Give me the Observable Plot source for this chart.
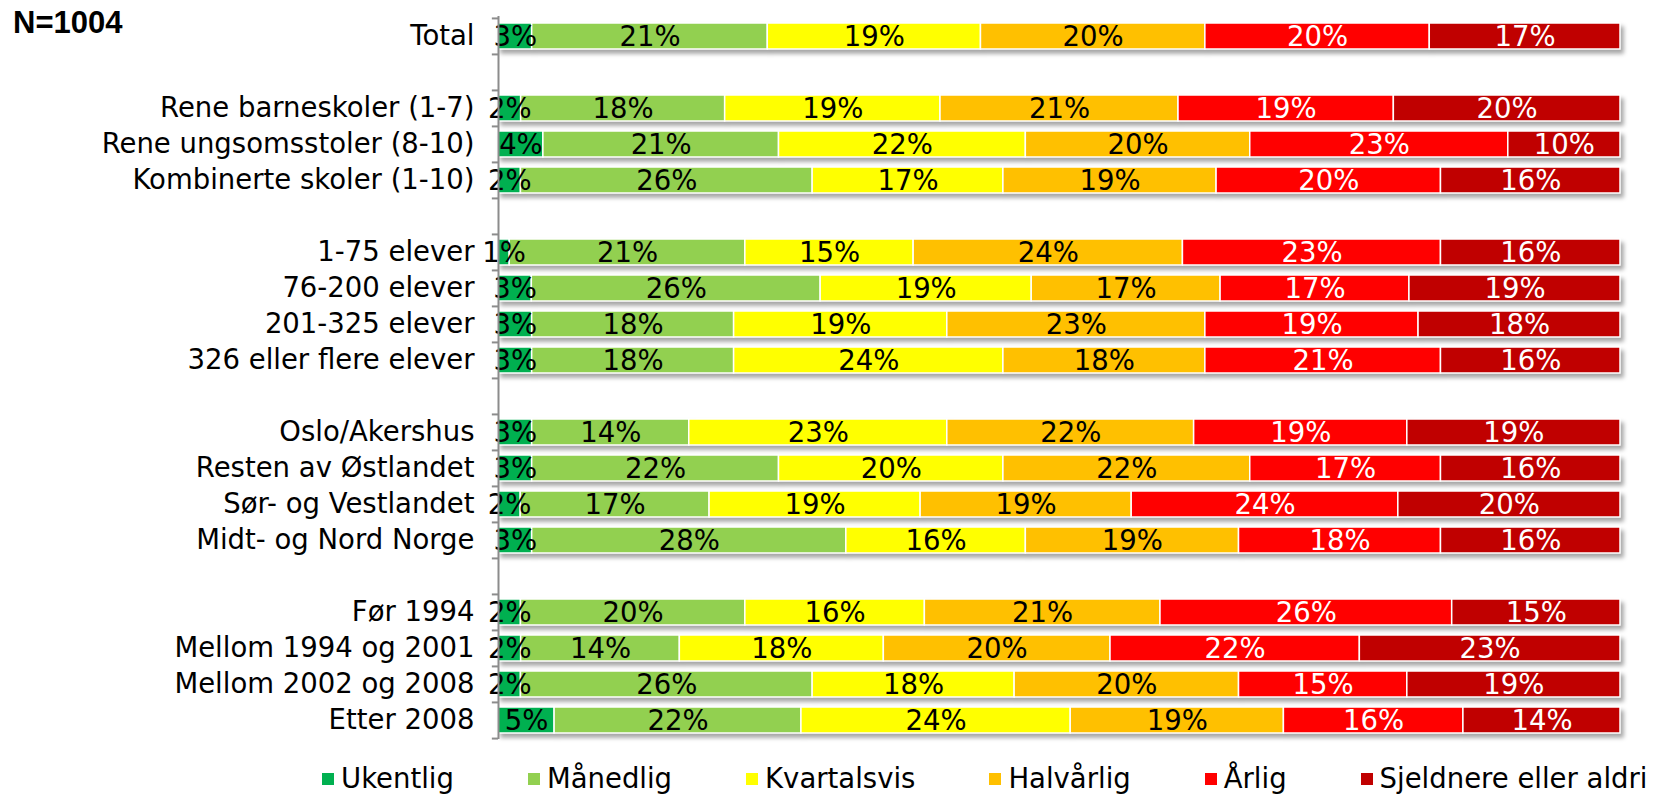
<!DOCTYPE html>
<html><head><meta charset="utf-8">
<script src="https://cdn.jsdelivr.net/npm/d3@7"></script>
<script src="https://cdn.jsdelivr.net/npm/@observablehq/plot@0.6"></script>
<style>
body{margin:0;background:#fff;font-family:"DejaVu Sans",sans-serif;}
#wrap{position:relative;width:1655px;height:796px;overflow:hidden;}
#n{position:absolute;left:13px;top:7px;font:bold 31px/32px "Liberation Sans",Arial,sans-serif;color:#000;}
#legend{position:absolute;left:322px;top:762px;height:32px;display:flex;align-items:center;font-size:27.5px;line-height:32px;white-space:nowrap;color:#000;}
.item{display:flex;align-items:center;margin-right:74px}
.sw{width:12px;height:12px;margin-right:7px;margin-top:2px}
</style></head><body>
<div id="wrap"><div id="chart"></div><div id="n">N=1004</div><div id="legend"></div></div>
<script>
// Categories (top to bottom) and gap rows
const categories = ["Total","Rene barneskoler (1-7)","Rene ungsomsstoler (8-10)","Kombinerte skoler (1-10)",
  "1-75 elever","76-200 elever","201-325 elever","326 eller flere elever",
  "Oslo/Akershus","Resten av Østlandet","Sør- og Vestlandet","Midt- og Nord Norge",
  "Før 1994","Mellom 1994 og 2001","Mellom 2002 og 2008","Etter 2008"];
const rowOrder = ["Total","gap1","Rene barneskoler (1-7)","Rene ungsomsstoler (8-10)","Kombinerte skoler (1-10)","gap2",
  "1-75 elever","76-200 elever","201-325 elever","326 eller flere elever","gap3",
  "Oslo/Akershus","Resten av Østlandet","Sør- og Vestlandet","Midt- og Nord Norge","gap4",
  "Før 1994","Mellom 1994 og 2001","Mellom 2002 og 2008","Etter 2008"];
const series = ["Ukentlig","Månedlig","Kvartalsvis","Halvårlig","Årlig","Sjeldnere eller aldri"];
const colors = ["#00B050","#92D050","#FFFF00","#FFC000","#FF0000","#C00000"];
const labelColors = ["black","black","black","black","white","white"];

const ukentlig    = [3,2,4,2, 1,3,3,3, 3,3,2,3, 2,2,2,5];
const maanedlig   = [21,18,21,26, 21,26,18,18, 14,22,17,28, 20,14,26,22];
const kvartalsvis = [19,19,22,17, 15,19,19,24, 23,20,19,16, 16,18,18,24];
const halvaarlig  = [20,21,20,19, 24,17,23,18, 22,22,19,19, 21,20,20,19];
const aarlig      = [20,19,23,20, 23,17,19,21, 19,17,24,18, 26,22,15,16];
const sjeldnere   = [17,20,10,16, 16,19,18,16, 19,16,20,16, 15,23,19,14];
const seriesValues = [ukentlig, maanedlig, kvartalsvis, halvaarlig, aarlig, sjeldnere];

const data = [];
categories.forEach((c, i) => {
  series.forEach((s, j) => data.push({cat: c, series: s, value: seriesValues[j][i], dark: labelColors[j] === "black"}));
});

const W = 1655, H = 760, mt = 16, mb = 21, ml = 498, mr = 35;
const step = (H - mt - mb) / rowOrder.length;
const lastRow = rowOrder[rowOrder.length - 1];

const stackOpts = {x: "value", y: "cat", offset: "normalize"};
const chart = Plot.plot({
  width: W, height: H,
  marginTop: mt, marginBottom: mb, marginLeft: ml, marginRight: mr,
  style: {fontFamily: "DejaVu Sans, sans-serif", fontSize: "27.5px", color: "#000", background: "white", overflow: "visible"},
  x: {domain: [0, 1], axis: null},
  y: {domain: rowOrder, padding: 0, tickSize: 0, tickPadding: 24, label: null,
      tickFormat: d => d.startsWith("gap") ? "" : d},
  color: {domain: series, range: colors},
  marks: [
    Plot.barX(data, Plot.stackX({...stackOpts, fill: "series", stroke: "white", strokeWidth: 1.5, insetTop: 5, insetBottom: 5})),
    Plot.text(data, Plot.stackX({...stackOpts, text: d => d.dark ? d.value + "%" : "", fill: "black", dy: 1})),
    Plot.text(data, Plot.stackX({...stackOpts, text: d => d.dark ? "" : d.value + "%", fill: "white", dy: 1})),
    Plot.ruleX([0], {stroke: "#8c8c8c", strokeWidth: 2}),
    Plot.ruleY(rowOrder, {y: d => d, x1: -0.0055, x2: 0, dy: -step / 2, stroke: "#8c8c8c", strokeWidth: 2}),
    Plot.ruleY([lastRow], {y: d => d, x1: -0.0055, x2: 0, dy: step / 2, stroke: "#8c8c8c", strokeWidth: 2})
  ]
});
d3.select(chart).select('g[aria-label="bar"]').style("filter", "drop-shadow(3px 4px 2px rgba(0,0,0,0.35))");
document.getElementById("chart").appendChild(chart);

const legend = d3.select("#legend");
series.forEach((s, j) => {
  const it = legend.append("div").attr("class", "item");
  it.append("div").attr("class", "sw").style("background", colors[j]);
  it.append("span").text(s);
});
</script>
</body></html>
